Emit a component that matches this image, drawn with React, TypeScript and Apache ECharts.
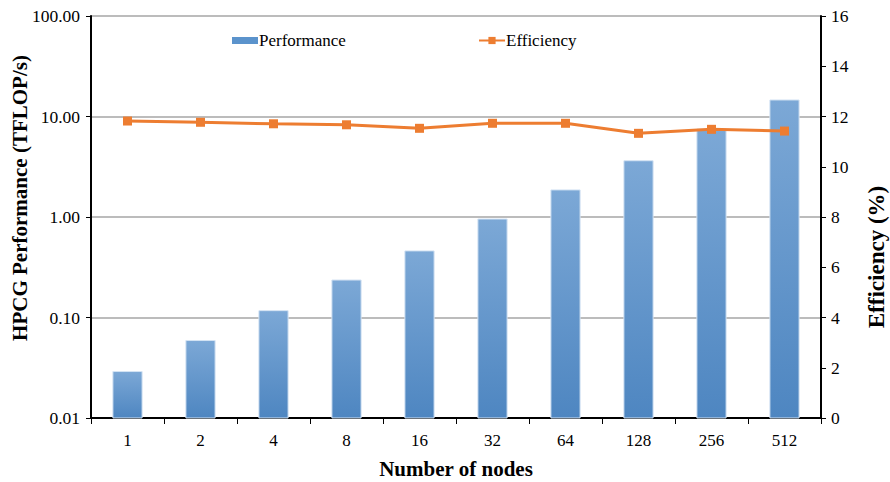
import React, { useEffect, useRef } from "react";
import * as echarts from "echarts";

const categories = ["1", "2", "4", "8", "16", "32", "64", "128", "256", "512"];
const performance = [0.029, 0.059, 0.117, 0.236, 0.46, 0.955, 1.86, 3.63, 7.5, 14.6];
const efficiency = [11.82, 11.77, 11.71, 11.67, 11.53, 11.73, 11.73, 11.33, 11.49, 11.42];
const LOG_MIN = 0.01;

const FONT = "Liberation Serif";

export default function App() {
  const ref = useRef<HTMLDivElement>(null);
  useEffect(() => {
    if (!ref.current) return;
    const chart = echarts.init(ref.current, null, { renderer: "svg" });
    const barFill = new echarts.graphic.LinearGradient(0, 0, 0, 1, [
      { offset: 0, color: "#7ca8d6" },
      { offset: 1, color: "#4e86c1" },
    ]);
    chart.setOption({
      animation: false,
      textStyle: { fontFamily: FONT },
      grid: {
        left: 91,
        right: 69,
        top: 16,
        bottom: 64,
        containLabel: false,
        outerBoundsMode: "none",
      },
      legend: [
        {
          data: [{ name: "Performance", icon: "rect" }],
          left: 232,
          top: 32,
          padding: 0,
          itemWidth: 26,
          itemHeight: 7,
          itemGap: 0,
          textStyle: { fontFamily: FONT, fontSize: 17, color: "#000", padding: [0, 0, 0, -4] },
        },
        {
          data: ["Efficiency"],
          left: 478,
          top: 32,
          padding: 0,
          itemWidth: 26,
          itemHeight: 9,
          textStyle: { fontFamily: FONT, fontSize: 17, color: "#000", padding: [0, 0, 0, -4] },
        },
      ],
      graphic: [
        {
          type: "text",
          x: 20,
          y: 198,
          rotation: Math.PI / 2,
          style: {
            text: "HPCG Performance (TFLOP/s)",
            fontFamily: FONT,
            fontSize: 21,
            fontWeight: "bold",
            fill: "#000",
            align: "center",
            verticalAlign: "middle",
          },
        },
        {
          type: "text",
          x: 876,
          y: 257,
          rotation: Math.PI / 2,
          style: {
            text: "Efficiency (%)",
            fontFamily: FONT,
            fontSize: 23,
            fontWeight: "bold",
            fill: "#000",
            align: "center",
            verticalAlign: "middle",
          },
        },
      ],
      xAxis: {
        type: "category",
        data: categories,
        boundaryGap: true,
        name: "Number of nodes",
        nameLocation: "middle",
        nameGap: 40,
        nameTextStyle: { fontFamily: FONT, fontSize: 21, fontWeight: "bold", color: "#000" },
        axisLine: { lineStyle: { color: "#000", width: 2 } },
        axisTick: { show: true, length: 6, lineStyle: { color: "#000" } },
        axisLabel: { fontFamily: FONT, fontSize: 17, color: "#000", margin: 14 },
      },
      yAxis: [
        {
          type: "log",
          logBase: 10,
          min: LOG_MIN,
          max: 100,
          axisLine: { show: true, lineStyle: { color: "#000", width: 2 } },
          axisTick: { show: true, length: 5, inside: false, lineStyle: { color: "#000" } },
          axisLabel: {
            fontFamily: FONT,
            fontSize: 17.5,
            color: "#000",
            margin: 11,
            formatter: (v: number) => v.toFixed(2),
          },
          splitLine: { show: true, lineStyle: { color: "#a6a6a6", width: 1.5 } },
          minorTick: { show: false },
        },
        {
          type: "value",
          min: 0,
          max: 16,
          interval: 2,
          axisLine: { show: true, lineStyle: { color: "#000", width: 2 } },
          axisTick: { show: true, length: 5, lineStyle: { color: "#000" } },
          axisLabel: { fontFamily: FONT, fontSize: 17.5, color: "#000", margin: 10 },
          splitLine: { show: false },
        },
      ],
      series: [
        {
          name: "Performance",
          type: "custom",
          yAxisIndex: 0,
          data: performance.map((v, i) => [i, v]),
          encode: { x: 0, y: 1 },
          itemStyle: { color: "#5b93cc" },
          renderItem: (params: any, api: any) => {
            const idx = api.value(0);
            const top = api.coord([idx, api.value(1)]);
            const base = api.coord([idx, LOG_MIN]);
            const w = api.size([1, 0])[0] * 0.4;
            return {
              type: "rect",
              shape: { x: top[0] - w / 2, y: top[1], width: w, height: base[1] - top[1] },
              style: { fill: barFill, stroke: "#d4e3f3", lineWidth: 1 },
            };
          },
          z: 2,
        },
        {
          name: "Efficiency",
          type: "line",
          yAxisIndex: 1,
          data: efficiency,
          symbol: "rect",
          symbolSize: 9,
          lineStyle: { color: "#ed7d31", width: 3 },
          itemStyle: { color: "#ed7d31" },
          z: 3,
        },
      ],
    });
    return () => chart.dispose();
  }, []);
  return (
    <div
      ref={ref}
      style={{ position: "fixed", left: 0, top: 0, width: 890, height: 482, background: "#fff" }}
    />
  );
}
